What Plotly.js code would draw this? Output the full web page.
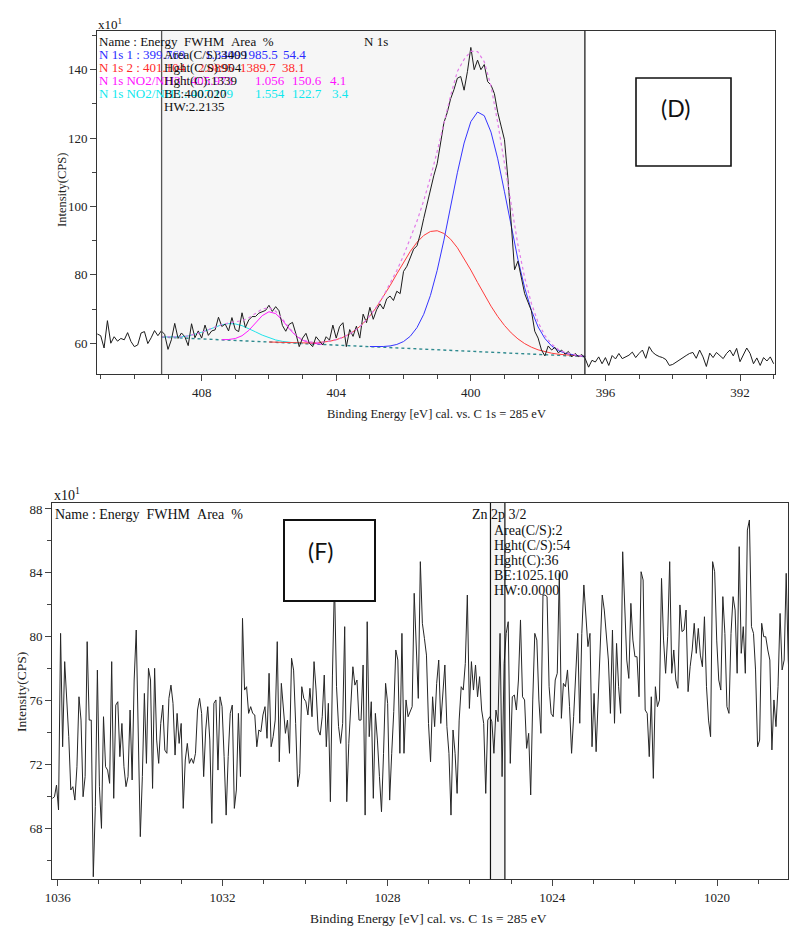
<!DOCTYPE html>
<html>
<head>
<meta charset="utf-8">
<script src="https://cdn.plot.ly/plotly-3.0.1.min.js"></script>
<style>html,body{margin:0;padding:0;background:#fff;}#chart{width:789px;height:934px;}</style>
</head>
<body>
<div id="chart"></div>
<script>
// ---------- Panel D : N 1s (energy grid 411.1 -> 391.0 eV, 0.1 eV step) ----------
const dStart = 411.1, dStep = 0.1;
const dCounts = [
62.7,62.2,58.6,66.6,60.0,61.9,60.6,61.4,61.0,63.1,
60.5,59.0,59.5,63.0,63.4,59.9,61.6,63.7,62.2,63.6,
62.6,58.2,61.0,65.8,61.4,63.0,61.9,59.3,65.7,61.6,
63.6,61.5,65.3,62.3,63.6,63.9,67.6,64.9,65.6,63.6,
67.5,64.0,63.4,68.9,64.6,66.8,67.8,67.8,68.8,69.3,
69.6,71.1,69.3,70.7,69.5,65.2,63.5,65.5,66.1,62.8,
59.0,61.5,62.9,60.0,59.0,61.9,60.8,59.5,61.9,60.9,
65.3,61.5,64.9,66.0,59.0,64.0,62.0,
65.0,61.5,68.5,66.0,70.5,67.0,69.8,71.5,70.0,73.0,
73.8,72.5,75.2,74.5,81.0,82.5,85.0,87.5,88.5,92.0,
96.5,101.0,104.5,109.0,112.5,118.0,124.5,127.5,131.5,134.2,
137.5,138.0,134.0,139.5,146.5,140.0,142.8,140.0,141.5,136.5,
135.5,133.0,127.5,123.5,119.5,108.5,96.0,81.5,84.0,79.0,
74.5,72.0,69.5,63.5,61.5,58.0,56.3,59.2,58.0,58.8,
57.2,58.0,56.8,57.6,56.0,57.0,56.1,56.7,55.5,
53.0,55.0,54.5,56.0,54.0,55.8,53.5,56.4,55.4,57.0,
55.5,56.0,56.5,57.4,55.8,57.0,58.0,55.6,59.0,57.4,
56.6,56.1,55.8,55.2,53.5,53.8,54.5,55.2,55.8,56.4,
57.0,57.3,55.6,58.0,56.0,53.2,57.1,55.8,57.3,56.5,
55.5,57.0,58.0,56.3,58.5,54.6,56.4,58.6,57.0,54.0,
55.7,53.5,55.8,54.8,56.0,54.0
];
// fit components (0.2 eV step)
const bgEnergy = [409.19, 396.61];
const bgValues = [61.8, 56.1];
const blueStart = 403.0;
const blueValues = [59.04,59.01,59.04,59.21,59.64,60.49,62.03,64.57,68.46,73.99,81.3,90.15,99.97,109.85,118.53,124.8,127.62,126.54,121.74,113.93,104.3,94.14,84.51,76.22,69.63,64.76,61.4,59.21,57.87,57.08,56.62,56.34,56.16];
const redStart = 406.0;
const redValues = [60.36,60.27,60.19,60.12,60.07,60.04,60.05,60.12,60.28,60.56,61.03,61.72,62.71,64.05,65.8,67.97,70.57,73.56,76.84,80.28,83.69,86.84,89.52,91.52,92.68,92.9,92.1,90.41,87.94,84.86,81.4,77.77,74.2,70.84,67.81,65.2,63.02,61.27,59.89,58.85,58.07,57.51,57.09,56.79,56.57,56.4,56.25,56.13];
const magStart = 407.4;
const magValues = [61.04,61.08,61.38,62.19,63.74,65.92,68.06,69.2,68.67,66.73,64.27,62.18,60.84,60.14,59.82,59.65];
const cyanStart = 409.2;
const cyanValues = [61.83,61.79,61.80,61.90,62.14,62.57,63.19,63.96,64.76,65.41,65.74,65.65,65.14,64.31,63.33,62.37,61.57,60.96,60.54,60.26,60.07,59.93];
const envStart = 409.2;
const envValues = [61.83,61.79,61.80,61.90,62.14,62.57,63.19,63.96,64.76,65.46,65.92,66.22,66.61,67.42,68.71,69.99,70.43,69.38,67.12,64.49,62.34,61.01,60.38,60.22,60.30,60.56,61.03,61.72,62.71,64.05,65.80,68.01,70.67,73.78,77.32,81.28,85.63,90.41,95.72,101.70,108.48,116.10,124.25,132.47,139.5,143.0,145.4,145.3,142.3,135.21,124.46,112.31,100.06,88.77,79.19,71.65,66.09,62.26,59.74,58.19,57.27,56.73,56.40,56.19];
const compStep = 0.2;
const dFitRegion = [409.19, 396.61];
const dTicks = {tick0: 392, dtick: 4, minor: 1};
const dYTicks = {tick0: 60, dtick: 20, minor: 10};

// ---------- Panel F : Zn 2p 3/2 ----------
const fStart = 1036.13, fStep = 0.0496;
const fCounts = [
69.88,69.98,70.71,69.15,80.21,73.11,78.44,76.24,73.74,70.40,
70.61,69.77,71.86,76.24,74.78,69.98,71.24,79.69,74.78,74.78,
64.97,69.36,77.91,70.61,68.00,74.99,71.86,71.65,70.82,78.44,
69.88,75.72,75.93,72.49,74.57,71.86,70.61,71.24,75.41,71.03,
77.29,80.42,74.37,67.48,71.24,76.45,72.07,78.02,77.29,70.50,
78.02,73.53,72.07,74.57,75.72,72.90,72.70,76.14,76.97,75.83,
72.59,75.20,73.32,74.57,69.25,72.28,73.32,72.07,72.38,72.07,
72.70,75.41,76.14,75.20,71.24,74.16,75.62,73.53,68.31,75.83,
76.04,71.65,76.24,75.62,72.49,68.83,72.49,75.20,75.72,69.25,
70.40,75.20,71.24,81.15,76.66,76.87,75.20,75.62,75.20,75.10,
73.11,74.16,74.05,75.10,75.62,73.64,77.71,73.11,73.74,74.78,
79.69,72.17,77.08,75.41,73.95,74.78,72.70,78.65,77.91,74.57,
70.61,71.44,
76.87,76.14,75.93,75.10,76.77,74.99,78.44,76.66,74.16,73.84,
74.99,77.60,73.11,75.83,69.67,77.60,83.50,76.87,74.37,73.32,
74.57,80.63,69.67,73.32,76.24,78.12,76.97,77.29,74.78,74.78,
78.23,68.83,80.94,73.74,75.93,69.88,75.20,73.53,71.24,69.04,
72.70,77.08,75.83,69.77,72.70,75.31,79.17,78.54,72.70,80.21,
72.70,76.04,74.99,75.31,75.62,82.72,78.96,76.14,84.70,80.84,
79.90,78.85,74.57,72.17,76.24,74.37,77.08,78.54,74.57,76.66,
78.23,74.37,72.70,68.83,74.16,72.70,70.19,74.78,76.87,76.66,
78.33,82.61,75.51,78.44,76.66,78.23,76.24,77.50,75.41,74.57,
70.19,74.78,74.99,74.68,72.70,75.41,74.68,80.21,71.24,78.33,
80.21,80.94,72.07,76.24,76.35,75.41,77.29,81.05,76.24,
76.04,73.01,73.95,70.09,76.04,80.21,79.79,76.04,73.95,82.61,
82.61,82.51,76.87,75.20,74.99,77.29,77.71,83.97,74.89,77.08,
76.87,77.92,75.62,72.70,74.99,77.71,80.21,74.58,80.21,83.24,
81.05,79.38,80.21,73.11,76.45,72.80,76.04,79.79,82.61,81.67,
80.21,78.54,75.20,80.42,74.58,79.58,76.87,75.20,85.32,81.67,
78.54,77.39,82.09,79.79,78.75,78.75,76.24,84.07,83.55,75.41,
75.20,72.49,76.24,71.13,76.87,75.62,76.04,83.65,79.79,77.71,
80.00,84.70,77.71,79.17,77.29,76.77,81.99,80.32,80.42,81.67,
76.56,78.12,79.17,80.84,78.96,80.52,78.85,78.12,81.25,76.87,
74.78,73.74,84.70,84.07,79.79,77.29,76.66,82.51,80.21,75.62,
75.20,80.21,82.51,81.67,77.71,85.64,78.96,80.63,77.71,86.68,
87.31,80.63,80.21,77.92,73.11,73.53,80.84,80.00,80.00,79.17,
78.54,72.91,76.04,74.37,76.87,81.46,77.92,78.54,83.97,78.54,
76.04,76.87
];
const fPeakRegion = [1025.50, 1025.15];
const fTicks = {tick0: 1020, dtick: 4, minor: 1};
const fYTicks = {tick0: 68, dtick: 4, minor: 2};

// ---------- helpers ----------
const W = 789, H = 934;
const px = x => x / W, py = y => 1 - y / H;
const grid = (start, step, n) => Array.from({length: n}, (_, i) => +(start - i * step).toFixed(4));

const SERIF = 'Liberation Serif, Times New Roman, serif';

const traces = [
  {x: bgEnergy, y: bgValues, xaxis: 'x', yaxis: 'y', mode: 'lines', line: {color: '#2f8a8f', width: 1.4, dash: 'dot'}},
  {x: grid(cyanStart, compStep, cyanValues.length), y: cyanValues, xaxis: 'x', yaxis: 'y', mode: 'lines', line: {color: '#1fe3ea', width: 1}},
  {x: grid(magStart, compStep, magValues.length), y: magValues, xaxis: 'x', yaxis: 'y', mode: 'lines', line: {color: '#ff1aff', width: 1}},
  {x: grid(redStart, compStep, redValues.length), y: redValues, xaxis: 'x', yaxis: 'y', mode: 'lines', line: {color: '#ff3c3c', width: 1}},
  {x: grid(blueStart, compStep, blueValues.length), y: blueValues, xaxis: 'x', yaxis: 'y', mode: 'lines', line: {color: '#3535ff', width: 1}},
  {x: grid(dStart, dStep, dCounts.length), y: dCounts, xaxis: 'x', yaxis: 'y', mode: 'lines', line: {color: '#1c1c1c', width: 1}},
  {x: grid(envStart, compStep, envValues.length), y: envValues, xaxis: 'x', yaxis: 'y', mode: 'lines', line: {color: '#e27ce8', width: 1.2, dash: 'dot'}},
  {x: grid(fStart, fStep, fCounts.length), y: fCounts, xaxis: 'x2', yaxis: 'y2', mode: 'lines', line: {color: '#262626', width: 1}}
];

function axisBase(t) {
  return {
    showline: true, mirror: true, linecolor: '#333', linewidth: 1,
    ticks: 'outside', ticklen: 6, tickwidth: 1, tickcolor: '#444',
    tickmode: 'linear', tick0: t.tick0, dtick: t.dtick,
    minor: {dtick: t.minor, ticks: 'outside', ticklen: 4, tickwidth: 1, tickcolor: '#444', showgrid: false},
    showgrid: false, zeroline: false, fixedrange: true,
    tickfont: {family: SERIF, size: 13, color: '#222'}
  };
}

const layout = {
  width: W, height: H,
  margin: {l: 0, r: 0, t: 0, b: 0},
  paper_bgcolor: '#ffffff', plot_bgcolor: '#ffffff',
  showlegend: false,
  font: {family: SERIF, color: '#222'},
  xaxis: Object.assign(axisBase(dTicks), {domain: [px(97), px(775)], range: [411.11, 390.96], anchor: 'y'}),
  yaxis: Object.assign(axisBase(dYTicks), {domain: [py(374), py(30.7)], range: [51.0, 151.4], anchor: 'x'}),
  xaxis2: Object.assign(axisBase(fTicks), {domain: [px(52), px(788)], range: [1036.14, 1018.28], anchor: 'y2'}),
  yaxis2: Object.assign(axisBase(fYTicks), {domain: [py(879.3), py(502.9)], range: [64.81, 88.38], anchor: 'x2'}),
  shapes: [
    {type: 'rect', xref: 'x', yref: 'y domain', x0: dFitRegion[0], x1: dFitRegion[1], y0: 0, y1: 1, fillcolor: '#f6f6f6', line: {width: 0}, layer: 'below'},
    {type: 'line', xref: 'x', yref: 'y domain', x0: dFitRegion[0], x1: dFitRegion[0], y0: 0, y1: 1, line: {color: '#555', width: 1.3}},
    {type: 'line', xref: 'x', yref: 'y domain', x0: dFitRegion[1], x1: dFitRegion[1], y0: 0, y1: 1, line: {color: '#222', width: 1.3}},
    {type: 'rect', xref: 'x2', yref: 'y2 domain', x0: fPeakRegion[0], x1: fPeakRegion[1], y0: 0, y1: 1, fillcolor: '#f4f4f4', line: {width: 0}, layer: 'below'},
    {type: 'line', xref: 'x2', yref: 'y2 domain', x0: fPeakRegion[0], x1: fPeakRegion[0], y0: 0, y1: 1, line: {color: '#111', width: 1.2}},
    {type: 'line', xref: 'x2', yref: 'y2 domain', x0: fPeakRegion[1], x1: fPeakRegion[1], y0: 0, y1: 1, line: {color: '#111', width: 1.2}},
    {type: 'rect', xref: 'paper', yref: 'paper', x0: px(636), x1: px(731), y0: py(166), y1: py(78), fillcolor: '#ffffff', line: {color: '#111', width: 1.6}, layer: 'above'},
    {type: 'rect', xref: 'paper', yref: 'paper', x0: px(284), x1: px(375), y0: py(601), y1: py(520), fillcolor: '#ffffff', line: {color: '#111', width: 2}, layer: 'above'}
  ],
  annotations: []
};

function note(text, x, y, opts) {
  opts = opts || {};
  layout.annotations.push(Object.assign({
    text: text, xref: 'paper', yref: 'paper', x: px(x), y: py(y),
    xanchor: 'left', yanchor: 'middle', showarrow: false,
    font: {family: SERIF, size: 13, color: '#111'}
  }, opts));
}
const sp = '\u00a0';
const hdr = 'Name' + sp + ':' + sp + 'Energy' + sp + sp + 'FWHM' + sp + sp + 'Area' + sp + sp + '%';

// Panel D texts
note('x10<sup>1</sup>', 96, 24);
note(hdr, 97, 41);
note('N' + sp + '1s', 362, 41);
const BLUE = '#2b2bff', RED = '#ff2a2a', MAG = '#ff10ff', CYAN = '#10e8ee';
note('N' + sp + '1s' + sp + '1' + sp + ':' + sp + '399.769', 97, 54.5, {font: {family: SERIF, size: 13, color: BLUE}});
note('1.3409', 243, 54.5, {xanchor: 'right', font: {family: SERIF, size: 13, color: BLUE}});
note('1985.5', 240, 54.5, {font: {family: SERIF, size: 13, color: BLUE}});
note('54.4', 281, 54.5, {font: {family: SERIF, size: 13, color: BLUE}});
note('N' + sp + '1s' + sp + '2' + sp + ':' + sp + '401.104', 97, 67.5, {font: {family: SERIF, size: 13, color: RED}});
note('2.0895', 236, 67.5, {xanchor: 'right', font: {family: SERIF, size: 13, color: RED}});
note('1389.7', 238, 67.5, {font: {family: SERIF, size: 13, color: RED}});
note('38.1', 280, 67.5, {font: {family: SERIF, size: 13, color: RED}});
note('N' + sp + '1s' + sp + 'NO2/NH3' + sp + ':' + sp + '405.973', 97, 80.5, {font: {family: SERIF, size: 13, color: MAG}});
note('1.056', 253, 80.5, {font: {family: SERIF, size: 13, color: MAG}});
note('150.6', 290, 80.5, {font: {family: SERIF, size: 13, color: MAG}});
note('4.1', 328, 80.5, {font: {family: SERIF, size: 13, color: MAG}});
note('N' + sp + '1s' + sp + 'NO2/NH3' + sp + ':' + sp + '407.179', 97, 93.5, {font: {family: SERIF, size: 13, color: CYAN}});
note('1.554', 253, 93.5, {font: {family: SERIF, size: 13, color: CYAN}});
note('122.7', 290, 93.5, {font: {family: SERIF, size: 13, color: CYAN}});
note('3.4', 330, 93.5, {font: {family: SERIF, size: 13, color: CYAN}});
note('Area(C/S):3409', 162, 54.5);
note('Hght(C/S):904', 162, 67.5);
note('Hght(C):1339', 162, 80.5);
note('BE:400.020', 162, 93.5);
note('HW:2.2135', 162, 106.5);
note('(D)', 675, 108, {xanchor: 'center', font: {family: 'Lato, Open Sans, sans-serif', size: 23, color: '#111'}});
note('Binding' + sp + 'Energy' + sp + '[eV]' + sp + 'cal.' + sp + 'vs.' + sp + 'C' + sp + '1s' + sp + '=' + sp + '285' + sp + 'eV', 436, 414, {xanchor: 'center', font: {family: SERIF, size: 12.5, color: '#222'}});
note('Intensity(CPS)', 62, 190, {xanchor: 'center', textangle: -90, font: {family: SERIF, size: 12.5, color: '#222'}});

// Panel F texts
note('x10<sup>1</sup>', 52, 494, {font: {family: SERIF, size: 14, color: '#111'}});
note(hdr, 52.5, 514.5, {font: {family: SERIF, size: 14, color: '#111'}});
note('Zn' + sp + '2p' + sp + '3/2', 470, 514.5, {font: {family: SERIF, size: 14, color: '#111'}});
note('Area(C/S):2', 491.5, 530.5, {font: {family: SERIF, size: 14, color: '#111'}});
note('Hght(C/S):54', 491.5, 545.5, {font: {family: SERIF, size: 14, color: '#111'}});
note('Hght(C):36', 491.5, 560.5, {font: {family: SERIF, size: 14, color: '#111'}});
note('BE:1025.100', 491.5, 575.5, {font: {family: SERIF, size: 14, color: '#111'}});
note('HW:0.0000', 491.5, 590.5, {font: {family: SERIF, size: 14, color: '#111'}});
note('(F)', 320, 551, {xanchor: 'center', font: {family: 'Lato, Open Sans, sans-serif', size: 23, color: '#111'}});
note('Binding' + sp + 'Energy' + sp + '[eV]' + sp + 'cal.' + sp + 'vs.' + sp + 'C' + sp + '1s' + sp + '=' + sp + '285' + sp + 'eV', 428, 918, {xanchor: 'center', font: {family: SERIF, size: 13.5, color: '#222'}});
note('Intensity(CPS)', 21, 692, {xanchor: 'center', textangle: -90, font: {family: SERIF, size: 13.5, color: '#222'}});

Plotly.newPlot('chart', traces, layout, {staticPlot: true, displayModeBar: false});
</script>
</body>
</html>
